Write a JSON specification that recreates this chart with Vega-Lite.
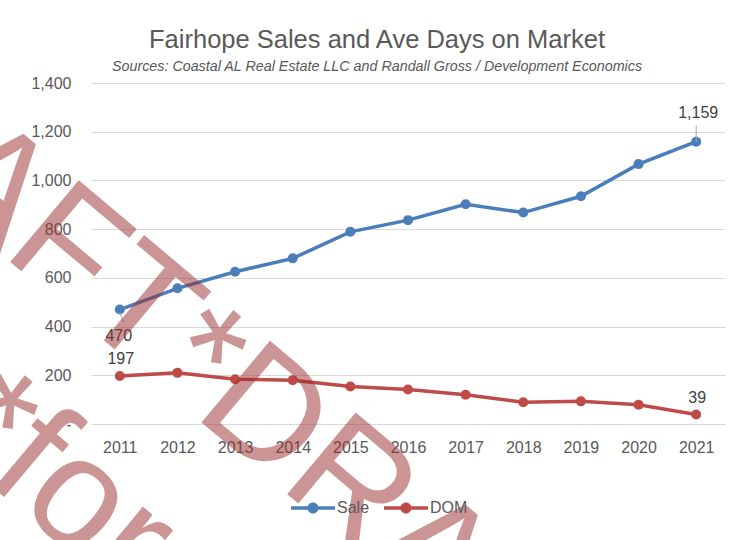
{
  "$schema": "https://vega.github.io/schema/vega-lite/v6.json",
  "width": 634,
  "height": 341,
  "autosize": {"type": "none"},
  "padding": {"left": 91, "top": 83, "right": 12, "bottom": 116},
  "background": "white",
  "title": {
    "text": "Fairhope Sales and Ave Days on Market",
    "subtitle": "Sources: Coastal AL Real Estate LLC and Randall Gross / Development Economics",
    "anchor": "middle",
    "frame": "group",
    "dx": -31,
    "font": "Liberation Sans",
    "fontSize": 25.5,
    "fontWeight": "normal",
    "color": "#595959",
    "subtitleFont": "Liberation Sans",
    "subtitleFontSize": 14.3,
    "subtitleFontStyle": "italic",
    "subtitleColor": "#595959",
    "subtitlePadding": 6,
    "offset": 1
  },
  "config": {
    "view": {"stroke": null},
    "axis": {
      "labelFont": "Liberation Sans",
      "labelFontSize": 16,
      "labelColor": "#595959",
      "domain": false,
      "ticks": false,
      "title": null
    }
  },
  "datasets": {
    "market": [
      {"year": 2011, "series": "Sale", "value": 470},
      {"year": 2012, "series": "Sale", "value": 557},
      {"year": 2013, "series": "Sale", "value": 625},
      {"year": 2014, "series": "Sale", "value": 680},
      {"year": 2015, "series": "Sale", "value": 789},
      {"year": 2016, "series": "Sale", "value": 837},
      {"year": 2017, "series": "Sale", "value": 902},
      {"year": 2018, "series": "Sale", "value": 868},
      {"year": 2019, "series": "Sale", "value": 935},
      {"year": 2020, "series": "Sale", "value": 1067},
      {"year": 2021, "series": "Sale", "value": 1159},
      {"year": 2011, "series": "DOM", "value": 197},
      {"year": 2012, "series": "DOM", "value": 210},
      {"year": 2013, "series": "DOM", "value": 184},
      {"year": 2014, "series": "DOM", "value": 180},
      {"year": 2015, "series": "DOM", "value": 154},
      {"year": 2016, "series": "DOM", "value": 142},
      {"year": 2017, "series": "DOM", "value": 120},
      {"year": 2018, "series": "DOM", "value": 89},
      {"year": 2019, "series": "DOM", "value": 93},
      {"year": 2020, "series": "DOM", "value": 79},
      {"year": 2021, "series": "DOM", "value": 39}
    ],
    "watermark": [
      {"year": 2013, "value": 400, "line1": "AFT*DRAFT", "line2": "*for discussion"}
    ]
  },
  "data": {"name": "market"},
  "encoding": {
    "x": {
      "field": "year",
      "type": "ordinal",
      "scale": {"type": "point", "padding": 0.5},
      "axis": {"labelAngle": 0, "labelPadding": 15, "grid": false}
    },
    "y": {
      "field": "value",
      "type": "quantitative",
      "scale": {"domain": [0, 1400], "nice": false},
      "axis": {
        "values": [0, 200, 400, 600, 800, 1000, 1200, 1400],
        "grid": true,
        "gridColor": "#d9d9d9",
        "gridWidth": 1,
        "labelPadding": 20,
        "labelExpr": "datum.value === 0 ? '-\u00a0\u00a0' : format(datum.value, ',')"
      }
    }
  },
  "layer": [
    {
      "mark": {"type": "line", "strokeWidth": 3.5},
      "encoding": {
        "color": {
          "field": "series",
          "type": "nominal",
          "scale": {"domain": ["Sale", "DOM"], "range": ["#4A7EBB", "#BE4B48"]},
          "legend": {
            "orient": "none",
            "legendX": 200,
            "legendY": 403,
            "direction": "horizontal",
            "title": null,
            "symbolType": "M-1,-0.08H1V0.08H-1Z M0.25,0A0.25,0.25,0,1,1,-0.25,0A0.25,0.25,0,1,1,0.25,0Z",
            "symbolSize": 1936,
            "symbolStrokeWidth": 0,
            "labelFont": "Liberation Sans",
            "labelFontSize": 16,
            "labelColor": "#595959",
            "labelOffset": 2,
            "columnPadding": 14,
            "encode": {
              "symbols": {"update": {"fill": {"scale": "color", "field": "value"}, "opacity": {"value": 1}}}
            }
          }
        }
      }
    },
    {
      "mark": {"type": "point", "filled": true, "size": 100, "opacity": 1},
      "encoding": {
        "color": {"field": "series", "type": "nominal", "legend": null}
      }
    },
    {
      "transform": [{"filter": "datum.series === 'Sale' && datum.year === 2021"}],
      "mark": {"type": "rule", "color": "#a6a6a6", "strokeWidth": 1, "y2Offset": -16},
      "encoding": {"y2": {"field": "value"}}
    },
    {
      "transform": [{"filter": "datum.series === 'Sale' && datum.year === 2011"}],
      "mark": {"type": "rule", "color": "#a6a6a6", "strokeWidth": 1, "yOffset": 3, "x2Offset": 4, "y2Offset": 13},
      "encoding": {"x2": {"field": "year"}, "y2": {"field": "value"}}
    },
    {
      "transform": [{"filter": "datum.series === 'Sale' && datum.year === 2011"}],
      "mark": {"type": "text", "font": "Liberation Sans", "fontSize": 16, "color": "#404040", "dy": 26, "dx": -1},
      "encoding": {"text": {"field": "value", "format": ","}}
    },
    {
      "transform": [{"filter": "datum.series === 'DOM' && (datum.year === 2011 || datum.year === 2021)"}],
      "mark": {"type": "text", "font": "Liberation Sans", "fontSize": 16, "color": "#404040", "dy": -17, "dx": 1},
      "encoding": {"text": {"field": "value", "format": ","}}
    },
    {
      "transform": [{"filter": "datum.series === 'Sale' && datum.year === 2021"}],
      "mark": {"type": "text", "font": "Liberation Sans", "fontSize": 16, "color": "#404040", "dy": -29, "dx": 2},
      "encoding": {"text": {"field": "value", "format": ","}}
    },
    {
      "data": {"name": "watermark"},
      "mark": {
        "type": "text",
        "angle": 40,
        "font": "Liberation Sans",
        "fontSize": 155,
        "color": "#9b2d2d",
        "opacity": 0.5,
        "align": "left",
        "baseline": "middle",
        "dx": -330,
        "dy": 48
      },
      "encoding": {"text": {"field": "line1"}}
    },
    {
      "data": {"name": "watermark"},
      "mark": {
        "type": "text",
        "angle": 40,
        "font": "Liberation Sans",
        "fontSize": 155,
        "color": "#9b2d2d",
        "opacity": 0.5,
        "align": "left",
        "baseline": "middle",
        "dx": -155,
        "dy": 232
      },
      "encoding": {"text": {"field": "line2"}}
    }
  ]
}
